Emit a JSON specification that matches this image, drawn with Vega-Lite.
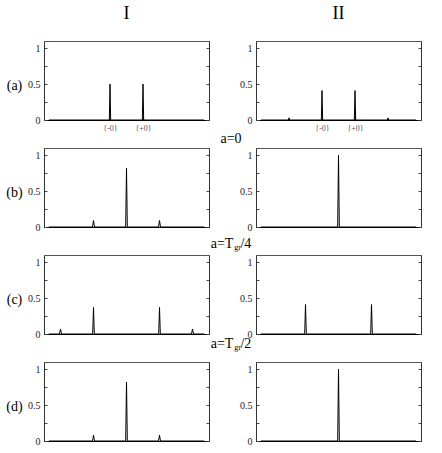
{
  "$schema": "https://vega.github.io/schema/vega-lite/v6.json",
  "autosize": {"type": "pad"},
  "padding": {"left": 5, "top": 4, "right": 5, "bottom": 5},
  "datasets": {
    "pk": [
      {"p": "a1", "x": -2.35, "y": 0}, {"p": "a1", "x": -0.52, "y": 0}, {"p": "a1", "x": -0.5, "y": 0.5}, {"p": "a1", "x": -0.48, "y": 0},
      {"p": "a1", "x": 0.48, "y": 0}, {"p": "a1", "x": 0.5, "y": 0.5}, {"p": "a1", "x": 0.52, "y": 0}, {"p": "a1", "x": 2.35, "y": 0},
      {"p": "a2", "x": -2.35, "y": 0}, {"p": "a2", "x": -1.52, "y": 0}, {"p": "a2", "x": -1.5, "y": 0.03}, {"p": "a2", "x": -1.48, "y": 0},
      {"p": "a2", "x": -0.52, "y": 0}, {"p": "a2", "x": -0.5, "y": 0.41}, {"p": "a2", "x": -0.48, "y": 0},
      {"p": "a2", "x": 0.48, "y": 0}, {"p": "a2", "x": 0.5, "y": 0.41}, {"p": "a2", "x": 0.52, "y": 0},
      {"p": "a2", "x": 1.48, "y": 0}, {"p": "a2", "x": 1.5, "y": 0.03}, {"p": "a2", "x": 1.52, "y": 0}, {"p": "a2", "x": 2.35, "y": 0},
      {"p": "b1", "x": -2.35, "y": 0}, {"p": "b1", "x": -1.03, "y": 0}, {"p": "b1", "x": -1, "y": 0.09}, {"p": "b1", "x": -0.97, "y": 0},
      {"p": "b1", "x": -0.025, "y": 0}, {"p": "b1", "x": 0, "y": 0.82}, {"p": "b1", "x": 0.025, "y": 0},
      {"p": "b1", "x": 0.97, "y": 0}, {"p": "b1", "x": 1, "y": 0.09}, {"p": "b1", "x": 1.03, "y": 0}, {"p": "b1", "x": 2.35, "y": 0},
      {"p": "b2", "x": -2.35, "y": 0}, {"p": "b2", "x": -0.025, "y": 0}, {"p": "b2", "x": 0, "y": 1}, {"p": "b2", "x": 0.025, "y": 0}, {"p": "b2", "x": 2.35, "y": 0},
      {"p": "c1", "x": -2.35, "y": 0}, {"p": "c1", "x": -2.03, "y": 0}, {"p": "c1", "x": -2, "y": 0.07}, {"p": "c1", "x": -1.97, "y": 0},
      {"p": "c1", "x": -1.025, "y": 0}, {"p": "c1", "x": -1, "y": 0.37}, {"p": "c1", "x": -0.975, "y": 0},
      {"p": "c1", "x": 0.975, "y": 0}, {"p": "c1", "x": 1, "y": 0.37}, {"p": "c1", "x": 1.025, "y": 0},
      {"p": "c1", "x": 1.97, "y": 0}, {"p": "c1", "x": 2, "y": 0.07}, {"p": "c1", "x": 2.03, "y": 0}, {"p": "c1", "x": 2.35, "y": 0},
      {"p": "c2", "x": -2.35, "y": 0}, {"p": "c2", "x": -1.025, "y": 0}, {"p": "c2", "x": -1, "y": 0.41}, {"p": "c2", "x": -0.975, "y": 0},
      {"p": "c2", "x": 0.975, "y": 0}, {"p": "c2", "x": 1, "y": 0.41}, {"p": "c2", "x": 1.025, "y": 0}, {"p": "c2", "x": 2.35, "y": 0},
      {"p": "d1", "x": -2.35, "y": 0}, {"p": "d1", "x": -1.03, "y": 0}, {"p": "d1", "x": -1, "y": 0.08}, {"p": "d1", "x": -0.97, "y": 0},
      {"p": "d1", "x": -0.025, "y": 0}, {"p": "d1", "x": 0, "y": 0.82}, {"p": "d1", "x": 0.025, "y": 0},
      {"p": "d1", "x": 0.97, "y": 0}, {"p": "d1", "x": 1, "y": 0.08}, {"p": "d1", "x": 1.03, "y": 0}, {"p": "d1", "x": 2.35, "y": 0},
      {"p": "d2", "x": -2.35, "y": 0}, {"p": "d2", "x": -0.025, "y": 0}, {"p": "d2", "x": 0, "y": 1}, {"p": "d2", "x": 0.025, "y": 0}, {"p": "d2", "x": 2.35, "y": 0}
    ]
  },
  "data": {"name": "pk"},
  "columns": 2,
  "spacing": {"row": 28, "column": 47},
  "bounds": "flush",
  "concat": [
    {
      "width": 165, "height": 79,
      "title": {"text": "I", "fontSize": 18, "offset": 18},
      "transform": [{"filter": "datum.p=='a1'"}],
      "layer": [
        {"mark": {"type": "line", "color": "#000", "strokeWidth": 1},
         "encoding": {
           "x": {"field": "x", "type": "quantitative", "scale": {"domain": [-2.35, 2.35]},
                 "axis": {"values": [-0.5, 0.5], "labelExpr": "datum.value<0?'{-0}':'{+0}'", "labelFontSize": 8, "labelColor": "#555", "labelPadding": 7, "title": null}},
           "y": {"field": "y", "type": "quantitative", "scale": {"domain": [0, 1.1]},
                 "axis": {"values": [0, 0.25, 0.5, 0.75, 1], "labelExpr": "datum.value==0?'0':datum.value==0.5?'0.5':datum.value==1?'1':''", "labelPadding": 7,
                          "title": "(a)", "titleAngle": 0, "titleX": -30, "titleY": 44, "titleAlign": "center", "titleBaseline": "middle"}}}},
        {"mark": {"type": "line", "strokeOpacity": 0},
         "encoding": {
           "x": {"field": "x", "type": "quantitative"},
           "y": {"field": "y", "type": "quantitative", "scale": {"domain": [0, 1.1]},
                 "axis": {"orient": "right", "values": [0, 0.25, 0.5, 0.75, 1], "labels": false, "title": null}}}}
      ],
      "resolve": {"axis": {"y": "independent"}}
    },
    {
      "width": 165, "height": 79,
      "title": {"text": "II", "fontSize": 18, "offset": 18},
      "transform": [{"filter": "datum.p=='a2'"}],
      "layer": [
        {"mark": {"type": "line", "color": "#000", "strokeWidth": 1},
         "encoding": {
           "x": {"field": "x", "type": "quantitative", "scale": {"domain": [-2.35, 2.35]},
                 "axis": {"values": [-0.5, 0.5], "labelExpr": "datum.value<0?'{-0}':'{+0}'", "labelFontSize": 8, "labelColor": "#555", "labelPadding": 7, "title": null}},
           "y": {"field": "y", "type": "quantitative", "scale": {"domain": [0, 1.1]},
                 "axis": {"values": [0, 0.25, 0.5, 0.75, 1], "labelExpr": "datum.value==0?'0':datum.value==0.5?'0.5':datum.value==1?'1':''", "labelPadding": 7, "title": null}}}},
        {"mark": {"type": "line", "strokeOpacity": 0},
         "encoding": {
           "x": {"field": "x", "type": "quantitative"},
           "y": {"field": "y", "type": "quantitative", "scale": {"domain": [0, 1.1]},
                 "axis": {"orient": "right", "values": [0, 0.25, 0.5, 0.75, 1], "labels": false, "title": null}}}}
      ],
      "resolve": {"axis": {"y": "independent"}}
    },
    {
      "width": 165, "height": 79,
      "title": {"text": "a=0", "fontSize": 14, "offset": 2, "dx": 104.5},
      "transform": [{"filter": "datum.p=='b1'"}],
      "layer": [
        {"mark": {"type": "line", "color": "#000", "strokeWidth": 1},
         "encoding": {
           "x": {"field": "x", "type": "quantitative", "scale": {"domain": [-2.35, 2.35]},
                 "axis": {"labels": false, "ticks": false, "title": "gr", "titleFontSize": 8, "titleX": 193, "titleY": 22.5, "titleAlign": "center", "titleBaseline": "alphabetic"}},
           "y": {"field": "y", "type": "quantitative", "scale": {"domain": [0, 1.1]},
                 "axis": {"values": [0, 0.25, 0.5, 0.75, 1], "labelExpr": "datum.value==0?'0':datum.value==0.5?'0.5':datum.value==1?'1':''", "labelPadding": 7,
                          "title": "(b)", "titleAngle": 0, "titleX": -30, "titleY": 44, "titleAlign": "center", "titleBaseline": "middle"}}}},
        {"mark": {"type": "line", "strokeOpacity": 0},
         "encoding": {
           "x": {"field": "x", "type": "quantitative"},
           "y": {"field": "y", "type": "quantitative", "scale": {"domain": [0, 1.1]},
                 "axis": {"orient": "right", "values": [0, 0.25, 0.5, 0.75, 1], "labels": false, "title": null}}}}
      ],
      "resolve": {"axis": {"y": "independent"}}
    },
    {
      "width": 165, "height": 79,
      "transform": [{"filter": "datum.p=='b2'"}],
      "layer": [
        {"mark": {"type": "line", "color": "#000", "strokeWidth": 1},
         "encoding": {
           "x": {"field": "x", "type": "quantitative", "scale": {"domain": [-2.35, 2.35]},
                 "axis": {"labels": false, "ticks": false, "title": null}},
           "y": {"field": "y", "type": "quantitative", "scale": {"domain": [0, 1.1]},
                 "axis": {"values": [0, 0.25, 0.5, 0.75, 1], "labelExpr": "datum.value==0?'0':datum.value==0.5?'0.5':datum.value==1?'1':''", "labelPadding": 7, "title": null}}}},
        {"mark": {"type": "line", "strokeOpacity": 0},
         "encoding": {
           "x": {"field": "x", "type": "quantitative"},
           "y": {"field": "y", "type": "quantitative", "scale": {"domain": [0, 1.1]},
                 "axis": {"orient": "right", "values": [0, 0.25, 0.5, 0.75, 1], "labels": false, "title": null}}}}
      ],
      "resolve": {"axis": {"y": "independent"}}
    },
    {
      "width": 165, "height": 79,
      "title": {"text": "a=T\u00a0\u00a0/4", "fontSize": 14, "offset": 4, "dx": 104.5},
      "transform": [{"filter": "datum.p=='c1'"}],
      "layer": [
        {"mark": {"type": "line", "color": "#000", "strokeWidth": 1},
         "encoding": {
           "x": {"field": "x", "type": "quantitative", "scale": {"domain": [-2.35, 2.35]},
                 "axis": {"labels": false, "ticks": false, "title": "gr", "titleFontSize": 8, "titleX": 193, "titleY": 15.5, "titleAlign": "center", "titleBaseline": "alphabetic"}},
           "y": {"field": "y", "type": "quantitative", "scale": {"domain": [0, 1.1]},
                 "axis": {"values": [0, 0.25, 0.5, 0.75, 1], "labelExpr": "datum.value==0?'0':datum.value==0.5?'0.5':datum.value==1?'1':''", "labelPadding": 7,
                          "title": "(c)", "titleAngle": 0, "titleX": -30, "titleY": 44, "titleAlign": "center", "titleBaseline": "middle"}}}},
        {"mark": {"type": "line", "strokeOpacity": 0},
         "encoding": {
           "x": {"field": "x", "type": "quantitative"},
           "y": {"field": "y", "type": "quantitative", "scale": {"domain": [0, 1.1]},
                 "axis": {"orient": "right", "values": [0, 0.25, 0.5, 0.75, 1], "labels": false, "title": null}}}}
      ],
      "resolve": {"axis": {"y": "independent"}}
    },
    {
      "width": 165, "height": 79,
      "transform": [{"filter": "datum.p=='c2'"}],
      "layer": [
        {"mark": {"type": "line", "color": "#000", "strokeWidth": 1},
         "encoding": {
           "x": {"field": "x", "type": "quantitative", "scale": {"domain": [-2.35, 2.35]},
                 "axis": {"labels": false, "ticks": false, "title": null}},
           "y": {"field": "y", "type": "quantitative", "scale": {"domain": [0, 1.1]},
                 "axis": {"values": [0, 0.25, 0.5, 0.75, 1], "labelExpr": "datum.value==0?'0':datum.value==0.5?'0.5':datum.value==1?'1':''", "labelPadding": 7, "title": null}}}},
        {"mark": {"type": "line", "strokeOpacity": 0},
         "encoding": {
           "x": {"field": "x", "type": "quantitative"},
           "y": {"field": "y", "type": "quantitative", "scale": {"domain": [0, 1.1]},
                 "axis": {"orient": "right", "values": [0, 0.25, 0.5, 0.75, 1], "labels": false, "title": null}}}}
      ],
      "resolve": {"axis": {"y": "independent"}}
    },
    {
      "width": 165, "height": 79,
      "title": {"text": "a=T\u00a0\u00a0/2", "fontSize": 14, "offset": 11, "dx": 104.5},
      "transform": [{"filter": "datum.p=='d1'"}],
      "layer": [
        {"mark": {"type": "line", "color": "#000", "strokeWidth": 1},
         "encoding": {
           "x": {"field": "x", "type": "quantitative", "scale": {"domain": [-2.35, 2.35]},
                 "axis": {"labels": false, "ticks": false, "title": null}},
           "y": {"field": "y", "type": "quantitative", "scale": {"domain": [0, 1.1]},
                 "axis": {"values": [0, 0.25, 0.5, 0.75, 1], "labelExpr": "datum.value==0?'0':datum.value==0.5?'0.5':datum.value==1?'1':''", "labelPadding": 7,
                          "title": "(d)", "titleAngle": 0, "titleX": -30, "titleY": 44, "titleAlign": "center", "titleBaseline": "middle"}}}},
        {"mark": {"type": "line", "strokeOpacity": 0},
         "encoding": {
           "x": {"field": "x", "type": "quantitative"},
           "y": {"field": "y", "type": "quantitative", "scale": {"domain": [0, 1.1]},
                 "axis": {"orient": "right", "values": [0, 0.25, 0.5, 0.75, 1], "labels": false, "title": null}}}}
      ],
      "resolve": {"axis": {"y": "independent"}}
    },
    {
      "width": 165, "height": 79,
      "transform": [{"filter": "datum.p=='d2'"}],
      "layer": [
        {"mark": {"type": "line", "color": "#000", "strokeWidth": 1},
         "encoding": {
           "x": {"field": "x", "type": "quantitative", "scale": {"domain": [-2.35, 2.35]},
                 "axis": {"labels": false, "ticks": false, "title": null}},
           "y": {"field": "y", "type": "quantitative", "scale": {"domain": [0, 1.1]},
                 "axis": {"values": [0, 0.25, 0.5, 0.75, 1], "labelExpr": "datum.value==0?'0':datum.value==0.5?'0.5':datum.value==1?'1':''", "labelPadding": 7, "title": null}}}},
        {"mark": {"type": "line", "strokeOpacity": 0},
         "encoding": {
           "x": {"field": "x", "type": "quantitative"},
           "y": {"field": "y", "type": "quantitative", "scale": {"domain": [0, 1.1]},
                 "axis": {"orient": "right", "values": [0, 0.25, 0.5, 0.75, 1], "labels": false, "title": null}}}}
      ],
      "resolve": {"axis": {"y": "independent"}}
    }
  ],
  "config": {
    "font": "Liberation Serif",
    "background": "white",
    "view": {"stroke": "#555", "strokeWidth": 1},
    "axis": {"grid": false, "labelFont": "Liberation Serif", "labelColor": "#222", "labelFontSize": 10, "tickColor": "#444", "tickSize": -3, "domainColor": "#333",
             "titleFont": "Liberation Serif", "titleFontSize": 14, "titleFontWeight": "normal", "titleColor": "#000"},
    "axisX": {"domainColor": "#000", "domainWidth": 1.2},
    "title": {"font": "Liberation Serif", "fontWeight": "normal", "color": "#000", "anchor": "middle"}
  }
}
